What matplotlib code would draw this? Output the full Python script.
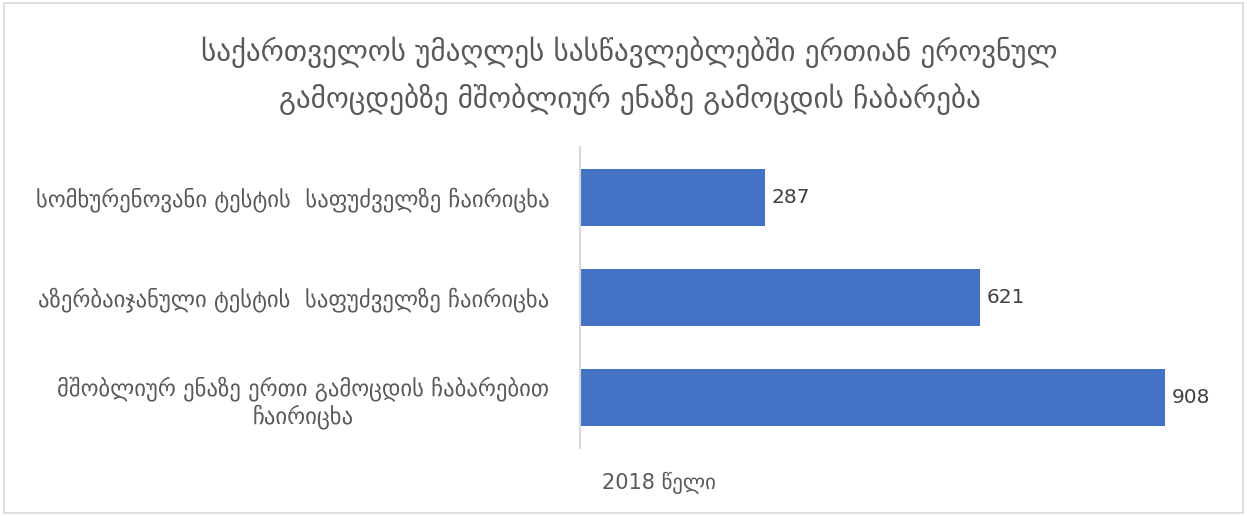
import matplotlib
matplotlib.use('Agg')
import matplotlib.pyplot as plt
import matplotlib.patches as mpatches

# data
categories = ['სომხურენოვანი ტესტის  საფუძველზე ჩაირიცხა',
              'აზერბაიჯანული ტესტის  საფუძველზე ჩაირიცხა',
              'მშობლიურ ენაზე ერთი გამოცდის ჩაბარებით\nჩაირიცხა']
values = [287, 621, 908]
title = ('საქართველოს უმაღლეს სასწავლებლებში ერთიან ეროვნულ\n'
         'გამოცდებზე მშობლიურ ენაზე გამოცდის ჩაბარება')
year_label = '2018 წელი'

plt.rcParams['font.family'] = ['DejaVu Sans']

fig = plt.figure(figsize=(12.47, 5.16), dpi=100)
ax = fig.add_axes([0.465, 0.132, 0.517, 0.583])

ypos = range(len(values))
ax.barh(ypos, values, height=0.565, color='#4472C4')
ax.set_ylim(len(values) - 0.5, -0.5)
ax.set_xlim(0, 1000)

# value labels
for y, v in zip(ypos, values):
    ax.text(v + 10, y, str(v), va='center', ha='left', fontsize=14.5,
            color='#404040')

ax.set_yticks(list(ypos))
ax.set_yticklabels(categories, fontsize=16.3, color='#595959',
                   multialignment='center')
ax.tick_params(axis='y', length=0, pad=22)
ax.set_xticks([])

for s in ['top', 'right', 'bottom']:
    ax.spines[s].set_visible(False)
ax.spines['left'].set_color('#D9D9D9')
ax.spines['left'].set_linewidth(1.5)

ax.text(0.035, -0.115, year_label, transform=ax.transAxes, fontsize=15,
        color='#595959', ha='left', va='center')

fig.text(0.505, 0.853, title, ha='center', va='center', fontsize=21,
         color='#595959', linespacing=1.6)

# light chart border
fig.patches.append(mpatches.Rectangle((0.003, 0.005), 0.994, 0.99,
                                      transform=fig.transFigure,
                                      fill=False, edgecolor='#D9D9D9',
                                      linewidth=1.2))

fig.savefig('out.png', dpi=100)
